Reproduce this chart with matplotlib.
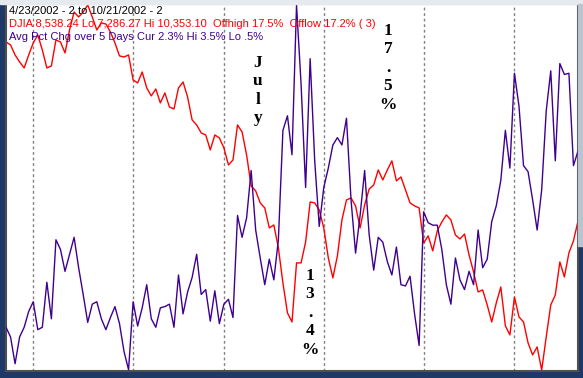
import matplotlib
matplotlib.use("Agg")
import matplotlib.pyplot as plt
from matplotlib.patches import Rectangle
import numpy as np

# DJIA cierre diario 4/23/2002 - 10/21/2002
djia = [10042, 10017, 9933, 9874, 9824, 9933, 10034, 10101, 9975, 9824,
        9841, 10059, 10042, 9950, 10143, 10294, 10252, 10294, 10353, 10252,
        10143, 10202, 10193, 10126, 10034, 9925, 9916, 9933, 9723, 9698,
        9790, 9656, 9589, 9647, 9530, 9614, 9496, 9479, 9656, 9706,
        9580, 9387, 9345, 9278, 9261, 9135, 9261, 9236, 9152, 9009,
        9051, 9345, 9286, 9093, 8833, 8791, 8690, 8648, 8480, 8505,
        8312, 8018, 7766, 7690, 8186, 8186, 8362, 8698, 8690, 8631,
        8480, 8228, 8060, 8245, 8547, 8715, 8732, 8665, 8480, 8673,
        8807, 8841, 8967, 8883, 8967, 9043, 8875, 8908, 8799, 8690,
        8665, 8648, 8354, 8413, 8287, 8455, 8530, 8589, 8547, 8421,
        8387, 8429, 8253, 8110, 7942, 7959, 7833, 7690, 7850, 7984,
        7657, 7581, 7900, 7732, 7690, 7514, 7413, 7480, 7286, 7564,
        7833, 7917, 8194, 8068, 8270, 8371, 8538]

# Avg Pct Chg over 5 Days
pct = [0.85, 0.77, 0.55, 0.77, 0.85, 0.98, 1.06, 0.83, 0.85, 1.22,
       0.92, 1.57, 1.49, 1.31, 1.45, 1.59, 1.34, 1.12, 0.89, 1.04,
       1.06, 0.92, 0.83, 0.93, 1.02, 0.88, 0.65, 0.50, 1.06, 0.86,
       1.01, 1.20, 0.92, 0.85, 1.01, 1.02, 1.04, 0.85, 1.28, 0.96,
       1.14, 1.26, 1.45, 1.12, 1.16, 0.90, 1.15, 0.88, 1.04, 1.08,
       0.93, 1.77, 1.59, 1.75, 2.14, 1.65, 1.42, 1.20, 1.41, 1.24,
       1.57, 2.47, 2.59, 2.27, 3.50, 2.85, 2.00, 3.06, 2.22, 1.68,
       2.00, 2.16, 2.35, 2.41, 2.35, 2.57, 1.90, 1.46, 1.77, 2.14,
       1.61, 1.32, 1.59, 1.55, 1.39, 1.28, 1.51, 1.20, 1.19, 1.27,
       0.96, 0.70, 1.80, 1.71, 1.69, 1.69, 1.49, 1.20, 1.04, 1.42,
       1.24, 1.16, 1.31, 1.20, 1.65, 1.34, 1.41, 1.72, 1.85, 2.06,
       2.47, 2.16, 2.94, 2.67, 2.18, 2.13, 1.90, 1.65, 1.98, 2.63,
       2.96, 2.22, 3.02, 2.93, 2.94, 2.18, 2.30]

# primer dia de cada mes (may, jun, jul, ago, sep, oct)
month_starts = [6, 28, 48, 70, 92, 112]

header = "4/23/2002 - 2 to 10/21/2002 - 2"
djia_label = "DJIA 8,538.24 Lo 7,286.27 Hi 10,353.10  Offhigh 17.5%  Offlow 17.2% ( 3)"
pct_label = "Avg Pct Chg over 5 Days Cur 2.3% Hi 3.5% Lo .5%"

W, H = 583, 378
fig = plt.figure(figsize=(W / 100, H / 100), dpi=100)
fig.patch.set_facecolor("#1e3868")
# marco de la ventana
fig.patches.append(Rectangle((0, 1 - 4 / H), 1, 4 / H, transform=fig.transFigure,
                             color="#e6eaee", zorder=0))
fig.patches.append(Rectangle((1 - 5 / W, 0.35), 5 / W, 0.65 - 4 / H,
                             transform=fig.transFigure, color="#b8c4d0", zorder=0))

ax = fig.add_axes([6 / W, 7 / H, 572 / W, 367 / H])
ax.set_facecolor("white")
x = np.arange(len(djia))

for m in month_starts:
    ax.axvline(m, color="#808080", lw=1, ls=(0, (2, 2)))

ax.plot(x, djia, color="#ff0000", lw=1)
ax.set_xlim(0, 126)
ax.set_ylim(7278, 10361)
ax.set_xticks([])
ax.set_yticks([])
for s in ax.spines.values():
    s.set_color("#505050")
    s.set_linewidth(1.5)

ax2 = ax.twinx()
ax2.plot(x, pct, color="#3f0090", lw=1)
ax2.set_ylim(0.49, 3.51)
ax2.set_yticks([])
for s in ax2.spines.values():
    s.set_visible(False)

fnt = "Liberation Sans"
fig.text(9 / W, 1 - 11 / H, header, color="black", fontsize=8, family=fnt, va="center")
fig.text(9 / W, 1 - 24 / H, djia_label, color="#ff0000", fontsize=8, family=fnt, va="center")
fig.text(9 / W, 1 - 37 / H, pct_label, color="#3f0090", fontsize=8, family=fnt, va="center")

# anotaciones verticales
serif = dict(family="Liberation Serif", fontweight="bold", fontsize=12.5,
             ha="center", va="top", linespacing=1.2, color="black")
fig.text(258 / W, 1 - 55 / H, "J\nu\nl\ny", **serif)
fig.text(388 / W, 1 - 23 / H, "1\n7\n.\n5\n%", **serif)
fig.text(310 / W, 1 - 268 / H, "1\n3\n.\n4\n%", **serif)

plt.savefig("out.png", dpi=100, facecolor=fig.get_facecolor())
